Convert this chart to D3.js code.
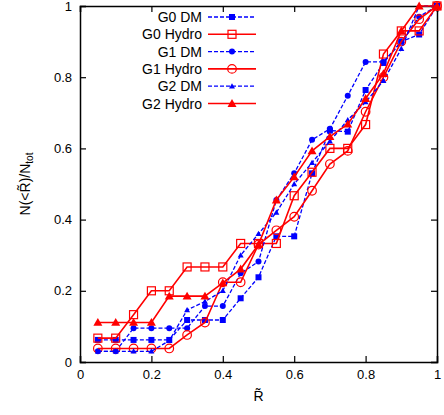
<!DOCTYPE html>
<html><head><meta charset="utf-8">
<script src="https://cdn.jsdelivr.net/npm/d3@7"></script>
<style>body{margin:0;background:#fff}text{font-family:"Liberation Sans",Arial,sans-serif}</style>
</head><body><div id="chart"></div>
<script>
const xs = [0.05,0.1,0.15,0.2,0.25,0.3,0.35,0.4,0.45,0.5,0.55,0.6,0.65,0.7,0.75,0.8,0.85,0.9,0.95,1.0];
const g0dm    = [0.062,0.062,0.062,0.062,0.062,0.118,0.118,0.118,0.179,0.238,0.353,0.353,0.53,0.65,0.647,0.764,0.84,0.9,0.92,1];
const g0hydro = [0.067,0.067,0.133,0.2,0.2,0.267,0.267,0.267,0.333,0.333,0.333,0.467,0.533,0.6,0.6,0.667,0.865,0.93,0.93,1];
const g1dm    = [0.03,0.03,0.095,0.095,0.095,0.095,0.157,0.157,0.249,0.282,0.455,0.53,0.624,0.655,0.748,0.843,0.843,0.9,0.97,1];
const g1hydro = [0.038,0.038,0.038,0.038,0.038,0.076,0.111,0.224,0.224,0.33,0.37,0.408,0.481,0.556,0.593,0.703,0.8,0.9,0.963,1];
const g2dm    = [0.03,0.03,0.03,0.03,0.06,0.146,0.17,0.2,0.3,0.36,0.42,0.5,0.56,0.62,0.68,0.73,0.79,0.88,1,1];
const g2hydro = [0.111,0.111,0.111,0.111,0.185,0.185,0.185,0.222,0.261,0.33,0.455,0.52,0.593,0.633,0.668,0.74,0.81,0.93,1,1];
const xTicks = [0,0.2,0.4,0.6,0.8,1];
const yTicks = [0,0.2,0.4,0.6,0.8,1];

const series = [
  {name:"G0 DM", v:g0dm, c:"#0000ff", dash:"4,2", m:"fsquare"},
  {name:"G0 Hydro", v:g0hydro, c:"#ff0000", dash:null, m:"osquare"},
  {name:"G1 DM", v:g1dm, c:"#0000ff", dash:"4,2", m:"fcircle"},
  {name:"G1 Hydro", v:g1hydro, c:"#ff0000", dash:null, m:"ocircle"},
  {name:"G2 DM", v:g2dm, c:"#0000ff", dash:"4,2", m:"ftri"},
  {name:"G2 Hydro", v:g2hydro, c:"#ff0000", dash:null, m:"ftri2"}
];

const W=444,H=415,L=80,R=437,T=6,B=362;
const svg=d3.select("#chart").append("svg").attr("width",W).attr("height",H);
const x=d3.scaleLinear().domain([0,1]).range([L,R]);
const y=d3.scaleLinear().domain([0,1]).range([B,T]);

svg.append("g").attr("transform",`translate(0,${B})`)
  .call(d3.axisBottom(x).tickValues(xTicks).tickSize(-6).tickPadding(8).tickFormat(d3.format("")));
svg.append("g").attr("transform",`translate(0,${T})`)
  .call(d3.axisTop(x).tickValues(xTicks).tickSize(-6).tickFormat(""));
svg.append("g").attr("transform",`translate(${L},0)`)
  .call(d3.axisLeft(y).tickValues(yTicks).tickSize(-6).tickPadding(8).tickFormat(d3.format("")));
svg.append("g").attr("transform",`translate(${R},0)`)
  .call(d3.axisRight(y).tickValues(yTicks).tickSize(-6).tickFormat(""));
svg.selectAll(".domain").attr("stroke","#000").attr("stroke-width",1.5);
svg.selectAll(".tick line").attr("stroke","#000").attr("stroke-width",1.2);
svg.selectAll(".tick text").attr("font-size",13).attr("fill","#000").style("font-family","Liberation Sans, Arial");

function marker(g,m,c,cx,cy){
  if(m==="fsquare") g.append("rect").attr("x",cx-3).attr("y",cy-3).attr("width",6).attr("height",6).attr("fill",c);
  else if(m==="osquare") g.append("rect").attr("x",cx-4).attr("y",cy-4).attr("width",8).attr("height",8).attr("fill","none").attr("stroke",c).attr("stroke-width",1.2);
  else if(m==="fcircle") g.append("circle").attr("cx",cx).attr("cy",cy).attr("r",3).attr("fill",c);
  else if(m==="ocircle") g.append("circle").attr("cx",cx).attr("cy",cy).attr("r",4.3).attr("fill","none").attr("stroke",c).attr("stroke-width",1.2);
  else { const s=m==="ftri"?3:4.5;
    g.append("path").attr("d",`M${cx},${cy-s}L${cx+s},${cy+s*0.75}L${cx-s},${cy+s*0.75}Z`).attr("fill",c); }
}

const line=d3.line().x((d,i)=>x(xs[i])).y(d=>y(d));
series.forEach(s=>{
  const g=svg.append("g");
  g.append("path").datum(s.v).attr("d",line).attr("fill","none").attr("stroke",s.c)
    .attr("stroke-width",s.dash?1.3:1.6).attr("stroke-dasharray",s.dash);
  s.v.forEach((d,i)=>marker(g,s.m,s.c,x(xs[i]),y(d)));
});

// legend
series.forEach((s,i)=>{
  const ly=17+i*17.3;
  const g=svg.append("g");
  g.append("text").attr("x",202).attr("y",ly+5).attr("text-anchor","end").attr("font-size",14).text(s.name);
  g.append("line").attr("x1",208).attr("x2",256).attr("y1",ly).attr("y2",ly).attr("stroke",s.c)
    .attr("stroke-width",s.dash?1.3:1.6).attr("stroke-dasharray",s.dash);
  marker(g,s.m,s.c,232,ly);
});

svg.append("text").attr("x",(L+R)/2).attr("y",401).attr("text-anchor","middle").attr("font-size",14).text("R\u0303");
svg.append("text").attr("transform",`translate(30,${(T+B)/2}) rotate(-90)`).attr("text-anchor","middle").attr("font-size",14)
  .html('N(&lt;R\u0303)/N<tspan font-size="10" dy="3">tot</tspan>');
</script></body></html>
